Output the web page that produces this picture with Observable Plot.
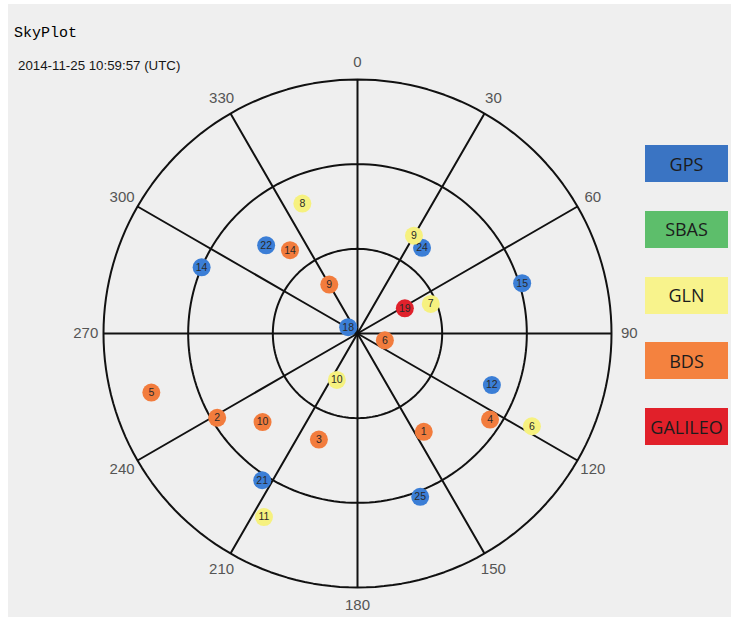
<!DOCTYPE html>
<html>
<head>
<meta charset="utf-8">
<script src="https://cdn.jsdelivr.net/npm/d3@7"></script>
<script src="https://cdn.jsdelivr.net/npm/@observablehq/plot@0.6"></script>
<style>
  html, body { margin: 0; padding: 0; }
  body { width: 731px; height: 617px; overflow: hidden; position: relative; background: #ffffff; font-family: "Liberation Sans", Arial, sans-serif; }
  #panel { position: absolute; left: 8px; top: 4px; right: 0; bottom: 0; background: #efefef; }
  #title { position: absolute; left: 14px; top: 25px; font-family: "Liberation Mono", monospace; font-size: 15px; color: #000; }
  #sub { position: absolute; left: 18px; top: 58px; font-size: 13.3px; color: #161616; }
  #chart { position: absolute; left: 0; top: 0; }
  #legend { position: absolute; left: 645px; top: 145px; display: flex; flex-direction: column; gap: 28.75px; }
  .item { width: 83px; height: 37px; display: flex; align-items: center; justify-content: center; font-family: "Open Sans", sans-serif; font-size: 18px; color: #1c1c1c; }
</style>
</head>
<body>
<div id="panel"></div>
<div id="title">SkyPlot</div>
<div id="sub">2014-11-25 10:59:57 (UTC)</div>
<div id="chart"></div>
<div id="legend"></div>
<script>
// --- data: satellites (azimuth in degrees clockwise from north, elevation in degrees)
const gpsPrn = [14, 22, 18, 24, 15, 12, 25, 21];
const gpsAz  = [293, 314, 304, 37, 73, 111, 159, 213];
const gpsEl  = [30, 45, 86, 52, 29, 39, 28, 28];

const glnPrn = [8, 9, 7, 6, 10, 11];
const glnAz  = [337, 30, 68, 118, 204, 207];
const glnEl  = [40, 50, 62, 20, 72, 17];

const bdsPrn = [14, 9, 6, 5, 2, 10, 3, 1, 4];
const bdsAz  = [321, 330, 104, 254, 239, 227, 200, 146, 123];
const bdsEl  = [52, 70, 80, 14, 32, 44, 50, 48, 34];

const galPrn = [19];
const galAz  = [62];
const galEl  = [71];

const systems = ["GPS", "SBAS", "GLN", "BDS", "GALILEO"];
const dotColors = ["#3b7ed6", "#5cbd6a", "#f6f17f", "#f27c3d", "#e0212b"];
const legendColors = ["#3a74c3", "#5dbe6b", "#f8f38c", "#f4823f", "#e1202a"];

const azTicks = [0, 30, 60, 90, 120, 150, 180, 210, 240, 270, 300, 330];
const elRings = [0, 30, 60];

// --- build table
const sats = [];
function add(sys, prn, az, el) {
  prn.forEach((p, i) => sats.push({sys, prn: p, az: az[i], el: el[i]}));
}
add("GPS", gpsPrn, gpsAz, gpsEl);
add("GLN", glnPrn, glnAz, glnEl);
add("BDS", bdsPrn, bdsAz, bdsEl);
add("GALILEO", galPrn, galAz, galEl);

// longitude on the projection: azimuth clockwise from top
const lon = a => 180 - a;

const plot = Plot.plot({
  width: 731,
  height: 617,
  marginLeft: 103,
  marginRight: 120,
  marginTop: 79,
  marginBottom: 30,
  projection: {
    type: "azimuthal-equidistant",
    rotate: [0, -90],
    domain: d3.geoCircle().center([0, 90]).radius(90)(),
    clip: false
  },
  color: {domain: systems, range: dotColors},
  style: {background: "transparent", overflow: "visible", fontFamily: "Liberation Sans, Arial, sans-serif"},
  marks: [
    Plot.geo(elRings, {
      geometry: e => d3.geoCircle().center([0, 90]).radius(90 - e)(),
      stroke: "#111", strokeWidth: 2, fill: "none"
    }),
    Plot.link(azTicks, {
      x1: a => lon(a), y1: () => 90, x2: a => lon(a), y2: () => 0,
      stroke: "#111", strokeWidth: 2
    }),
    Plot.text(azTicks, {
      x: a => lon(a), y: () => -6.3, text: a => String(a),
      fill: "#555", fontSize: 15
    }),
    Plot.dot(sats, {
      x: d => lon(d.az), y: "el", r: 9, fill: "sys", stroke: "none"
    }),
    Plot.text(sats, {
      x: d => lon(d.az), y: "el", text: d => String(d.prn),
      fill: "#2a2a2a", fontSize: 10.5
    })
  ]
});
document.getElementById("chart").appendChild(plot);

// --- legend
const legend = document.getElementById("legend");
systems.forEach((s, i) => {
  const div = document.createElement("div");
  div.className = "item";
  div.style.background = legendColors[i];
  div.textContent = s;
  legend.appendChild(div);
});
</script>
</body>
</html>
